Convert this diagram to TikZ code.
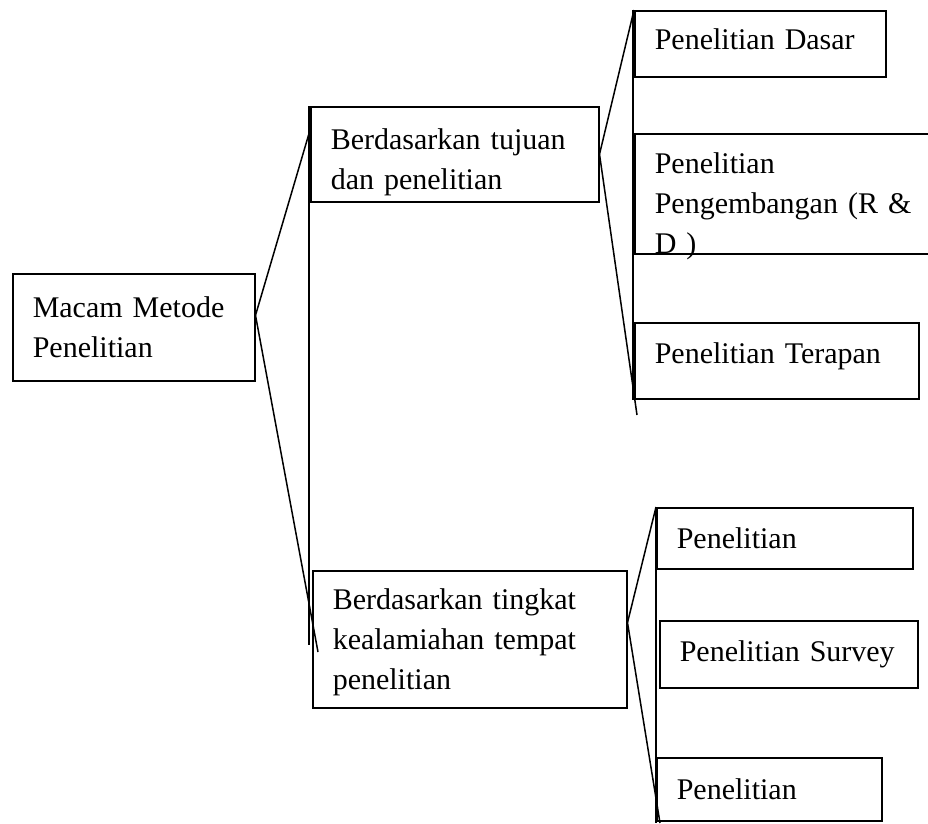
\documentclass[tikz,border=0pt]{standalone}
\usepackage{fontspec}
\setmainfont{Liberation Serif}
\usetikzlibrary{calc}
\begin{document}
\begin{tikzpicture}[x=1pt,y=-1pt,line width=1.5pt,
	kotak/.style={draw,anchor=north west,align=left,inner xsep=20pt,font=\fontsize{30}{40}\selectfont}]
\useasboundingbox (0,0) rectangle (928,823);
\node[kotak,text width=202pt,minimum height=107pt] (root) at (12,273) {Macam Metode\\Penelitian};
\node[kotak,text width=248pt,minimum height=95pt,text depth=30pt] (tujuan) at (310,106) {Berdasarkan tujuan\\dan penelitian};
\node[kotak,text width=274pt,minimum height=137pt,text depth=81pt] (tingkat) at (312,570) {Berdasarkan tingkat\\kealamiahan tempat\\penelitian};
\node[kotak,text width=211pt,minimum height=66pt,text depth=10pt] (dasar) at (634,10) {Penelitian Dasar};
\node[kotak,text width=270pt,minimum height=120pt,text depth=62pt] (rnd) at (634,133) {Penelitian\\Pengembangan (R \&\\D )};
\node[kotak,text width=244pt,minimum height=76pt,text depth=16pt] (terapan) at (634,322) {Penelitian Terapan};
\node[kotak,text width=216pt,minimum height=61pt] (eksp) at (656,507) {Penelitian};
\node[kotak,text width=218pt,minimum height=67pt] (survey) at (659,620) {Penelitian Survey};
\node[kotak,text width=185pt,minimum height=63pt] (natur) at (656,757) {Penelitian};
\coordinate (r) at ($(root.north east)!0.39!(root.south east)$);
\coordinate (t) at ($(tingkat.north east)!0.38!(tingkat.south east)$);
\coordinate (akhir1) at (318,652);
\coordinate (spine1) at (309,645);
\coordinate (akhir2) at (637,415);
\coordinate (spine2) at (633,400);
\coordinate (akhir3) at (660,823);
\draw (r) -- ($(tujuan.north west)!0.25!(tujuan.south west)$);
\draw (r) -- (akhir1);
\draw (tujuan.north west -| spine1) -- (spine1);
\draw (tujuan.east) -- (dasar.north west);
\draw (tujuan.east) -- (akhir2);
\draw (dasar.north west -| spine2) -- (spine2);
\draw (t) -- (eksp.north west);
\draw (t) -- (akhir3);
\draw (eksp.north west) -- (eksp.north west |- akhir3);
\end{tikzpicture}
\end{document}
